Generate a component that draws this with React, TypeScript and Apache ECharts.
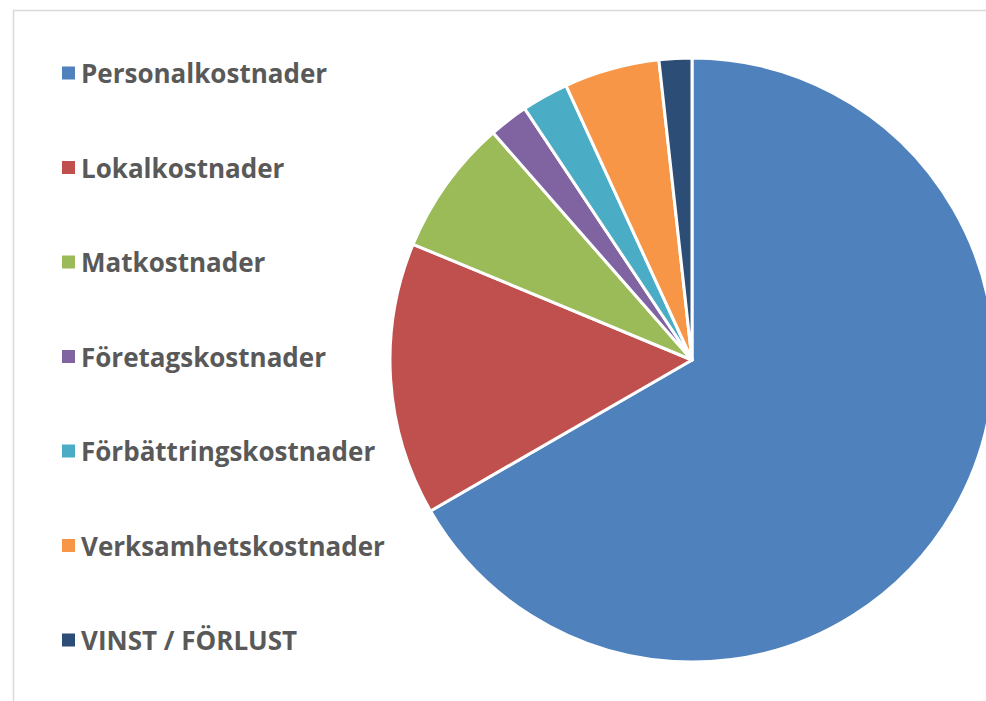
import React, { useEffect, useRef } from "react";
import * as echarts from "echarts";

const categories = [
  "Personalkostnader",
  "Lokalkostnader",
  "Matkostnader",
  "Företagskostnader",
  "Förbättringskostnader",
  "Verksamhetskostnader",
  "VINST / FÖRLUST",
];
const values = [66.7, 14.6, 7.3, 2.1, 2.5, 5.1, 1.75];
const colors = ["#4F81BD", "#C0504D", "#9BBB59", "#8064A2", "#4BACC6", "#F79646", "#2C4D75"];

export default function App() {
  const ref = useRef<HTMLDivElement>(null);
  useEffect(() => {
    const chart = echarts.init(ref.current!, null, { renderer: "svg" });
    chart.setOption({
      animation: false,
      color: colors,
      graphic: [
        {
          type: "rect",
          shape: { x: 13.5, y: 10.5, width: 1000, height: 720 },
          style: { fill: "none", stroke: "#D9D9D9", lineWidth: 1.5 },
          z: -1,
        },
      ],
      legend: {
        orient: "vertical",
        left: 57,
        top: 55,
        itemWidth: 13,
        itemHeight: 13,
        itemGap: 68.5,
        icon: "rect",
        itemStyle: { borderWidth: 0 },
        textStyle: {
          fontFamily: "Open Sans",
          fontWeight: "bold",
          fontSize: 26,
          lineHeight: 26,
          color: "#595959",
          padding: [0, 0, 0, 1],
        },
        data: categories,
      },
      series: [
        {
          type: "pie",
          center: [692, 360],
          radius: 302,
          startAngle: 90,
          clockwise: true,
          label: { show: false },
          labelLine: { show: false },
          itemStyle: { borderColor: "#FFFFFF", borderWidth: 3 },
          emphasis: { disabled: true },
          data: categories.map((name, i) => ({ name, value: values[i] })),
        },
      ],
    });
    return () => chart.dispose();
  }, []);
  return (
    <div
      ref={ref}
      style={{ position: "absolute", left: 0, top: 0, width: 986, height: 701, background: "#fff" }}
    />
  );
}
